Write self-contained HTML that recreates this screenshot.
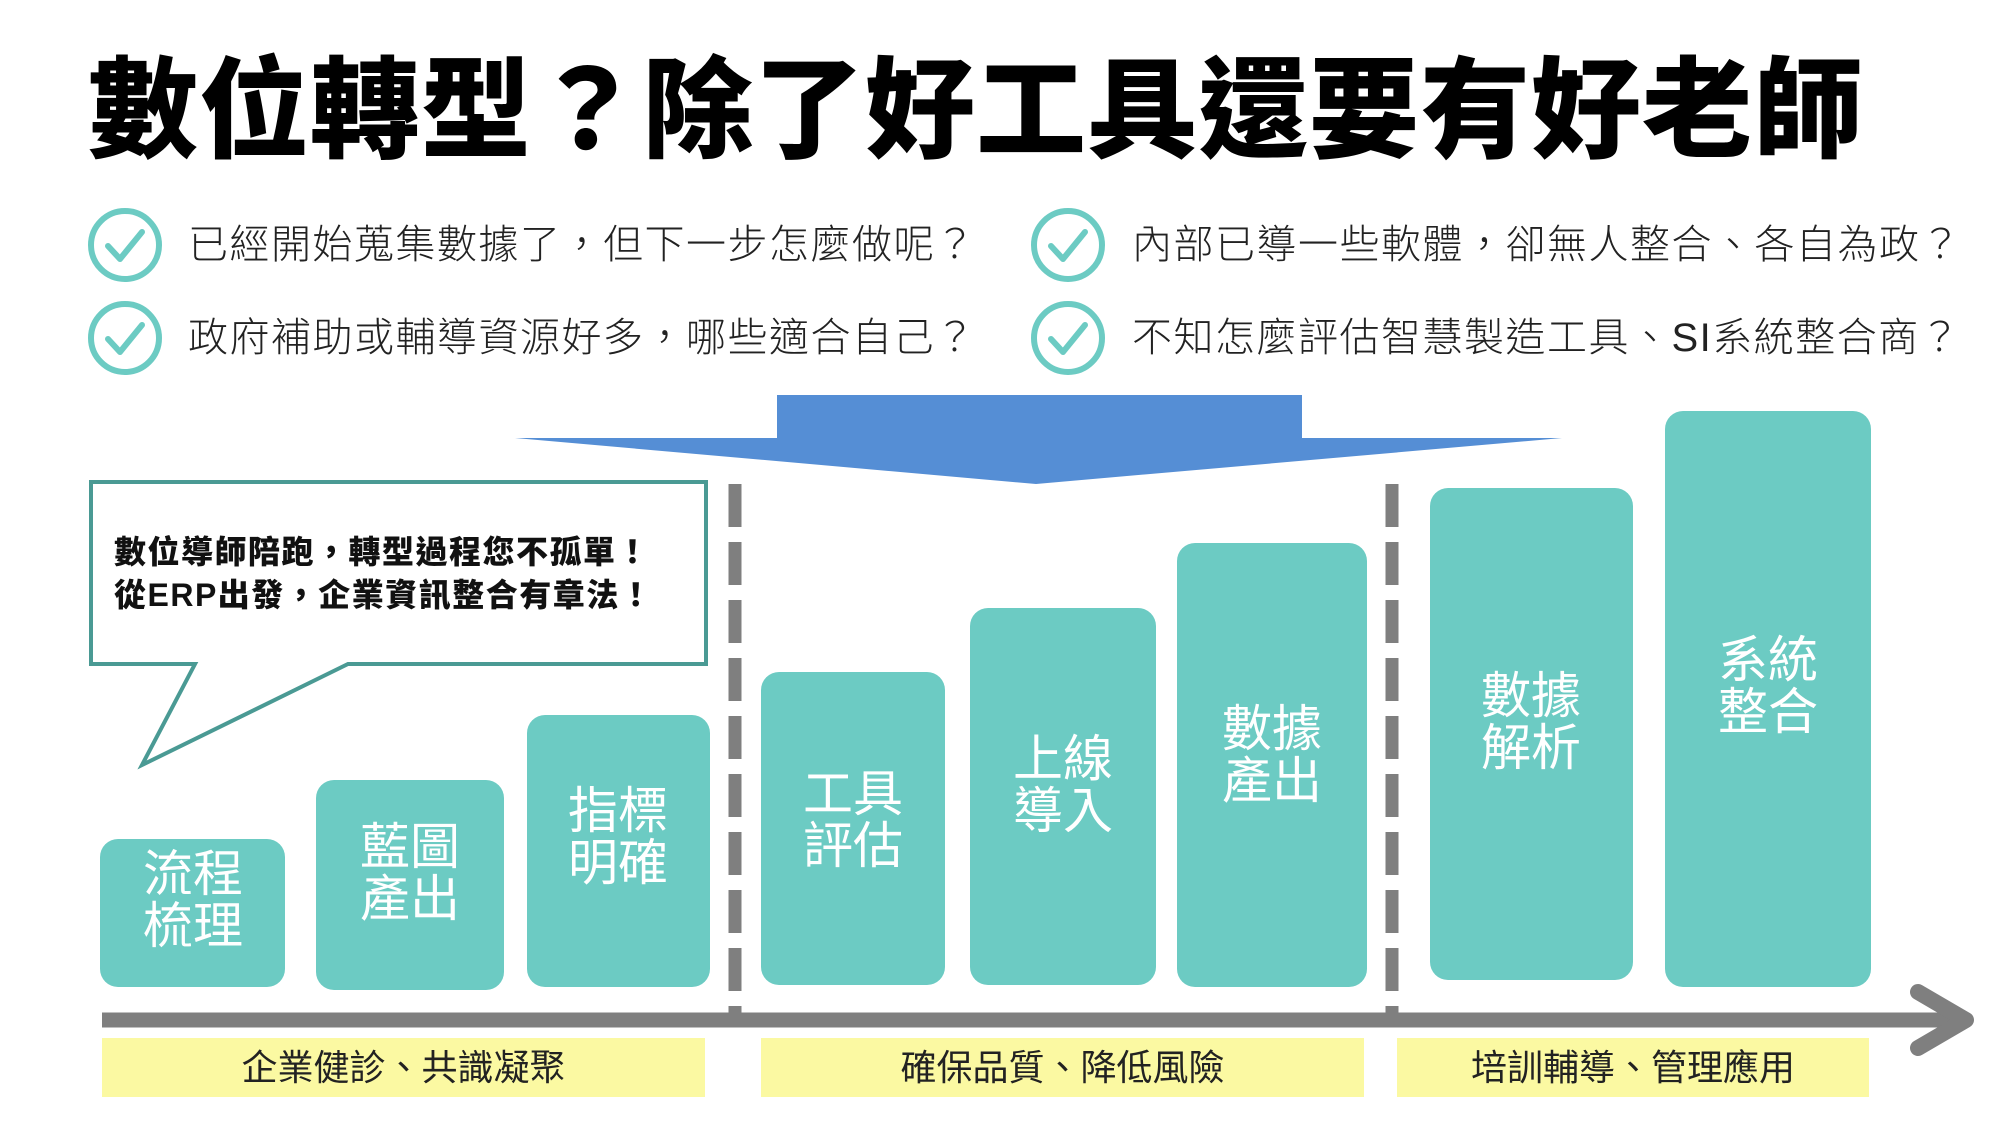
<!DOCTYPE html>
<html><head><meta charset="utf-8"><style>
body{margin:0;width:2000px;height:1125px;background:#fff;position:relative;overflow:hidden;font-family:"Liberation Sans","Noto Sans CJK TC",sans-serif}
.a{position:absolute;white-space:nowrap}
.title{left:88px;top:52px;font-size:110px;line-height:120px;font-weight:900;color:#000;letter-spacing:1px}
.q{font-size:40px;line-height:48px;color:#222;font-weight:300;letter-spacing:1.5px}
.box{position:absolute;background:#6ccbc3;border-radius:18px}
.bt{position:absolute;color:#fff;font-size:50px;line-height:52px;text-align:center;width:200px}
.lab{position:absolute;background:#fbf9a2;top:1038px;height:59px;font-size:36px;line-height:59px;text-align:center;color:#222}
</style></head><body>
<div class="a title">數位轉型？除了好工具還要有好老師</div>
<svg class="a" style="left:0;top:0" width="2000" height="1125">
<g fill="none" stroke="#6ccbc3" stroke-width="6">
<circle cx="125" cy="245" r="34"/><circle cx="125" cy="338" r="34"/>
<circle cx="1068" cy="245" r="34"/><circle cx="1068" cy="338" r="34"/>
</g>
<g fill="none" stroke="#6ccbc3" stroke-width="6" stroke-linecap="round" stroke-linejoin="round">
<path d="M108 246 L120 259 L142 232"/><path d="M108 339 L120 352 L142 325"/>
<path d="M1051 246 L1063 259 L1085 232"/><path d="M1051 339 L1063 352 L1085 325"/>
</g>
<polygon points="777,395 1302,395 1302,438 1562,438 1036,484 515,438 777,438" fill="#558ed5"/>
<polygon points="91,482 706,482 706,664 348,664 142,765 195,664 91,664" fill="#fff" stroke="#4a9a94" stroke-width="4"/>
<line x1="735" y1="484" x2="735" y2="1014" stroke="#7f7f7f" stroke-width="13" stroke-dasharray="43,15"/>
<line x1="1392" y1="484" x2="1392" y2="1014" stroke="#7f7f7f" stroke-width="13" stroke-dasharray="43,15"/>
<line x1="102" y1="1020" x2="1962" y2="1020" stroke="#7f7f7f" stroke-width="15"/>
<polyline points="1918,992 1966,1020 1918,1048" fill="none" stroke="#7f7f7f" stroke-width="16" stroke-linecap="round" stroke-linejoin="round"/>
</svg>
<div class="a q" style="left:188px;top:221px">已經開始蒐集數據了，但下一步怎麼做呢？</div>
<div class="a q" style="left:188px;top:314px">政府補助或輔導資源好多，哪些適合自己？</div>
<div class="a q" style="left:1132px;top:221px">內部已導一些軟體，卻無人整合、各自為政？</div>
<div class="a q" style="left:1132px;top:314px">不知怎麼評估智慧製造工具、SI系統整合商？</div>
<div class="a" style="left:114px;top:531px;font-size:32px;line-height:43px;font-weight:900;color:#111;letter-spacing:1.5px">數位導師陪跑，轉型過程您不孤單！<br>從ERP出發，企業資訊整合有章法！</div>
<div class="box" style="left:100px;top:839px;width:185px;height:148px"></div>
<div class="box" style="left:316px;top:780px;width:188px;height:210px"></div>
<div class="box" style="left:527px;top:715px;width:183px;height:272px"></div>
<div class="box" style="left:761px;top:672px;width:184px;height:313px"></div>
<div class="box" style="left:970px;top:608px;width:186px;height:377px"></div>
<div class="box" style="left:1177px;top:543px;width:190px;height:444px"></div>
<div class="box" style="left:1430px;top:488px;width:203px;height:492px"></div>
<div class="box" style="left:1665px;top:411px;width:206px;height:576px"></div>
<div class="bt" style="left:93px;top:848px">流程<br>梳理</div>
<div class="bt" style="left:310px;top:821px">藍圖<br>產出</div>
<div class="bt" style="left:518px;top:785px">指標<br>明確</div>
<div class="bt" style="left:753px;top:768px">工具<br>評估</div>
<div class="bt" style="left:963px;top:733px">上線<br>導入</div>
<div class="bt" style="left:1172px;top:703px">數據<br>產出</div>
<div class="bt" style="left:1431px;top:670px">數據<br>解析</div>
<div class="bt" style="left:1668px;top:634px">系統<br>整合</div>
<div class="lab" style="left:102px;width:603px">企業健診、共識凝聚</div>
<div class="lab" style="left:761px;width:603px">確保品質、降低風險</div>
<div class="lab" style="left:1397px;width:472px">培訓輔導、管理應用</div>
</body></html>
